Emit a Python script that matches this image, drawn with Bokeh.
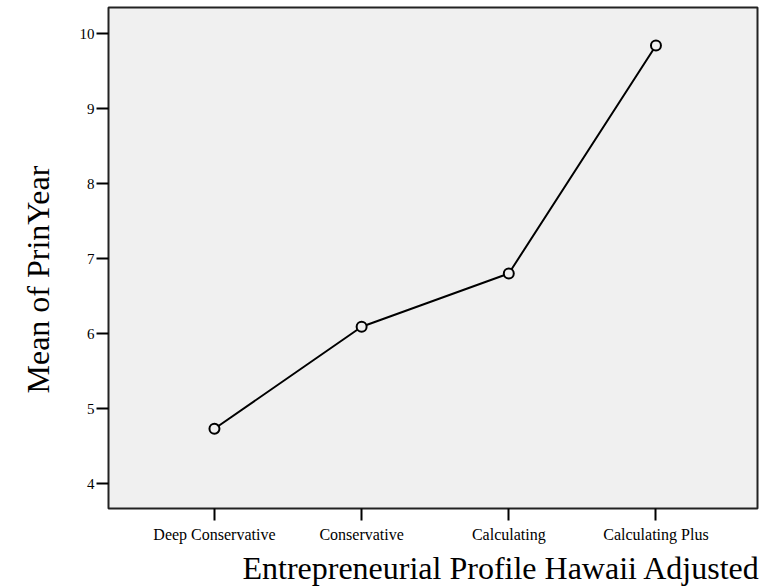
from bokeh.plotting import figure
from bokeh.models import Range1d, FixedTicker, Title
from bokeh.embed import file_html
from bokeh.resources import INLINE

categories = ["Deep Conservative", "Conservative", "Calculating", "Calculating Plus"]
means = [4.73, 6.09, 6.80, 9.84]
y_ticks = [4, 5, 6, 7, 8, 9, 10]

x_title = "Entrepreneurial Profile Hawaii Adjusted"
y_title = "Mean of PrinYear"

FONT = "Liberation Serif"
xs = list(range(len(categories)))

p = figure(
    output_backend="svg", toolbar_location=None, title=None,
    frame_width=649, frame_height=501,
    min_border_top=7, min_border_left=108, min_border_right=5, min_border_bottom=60,
    x_range=Range1d(-0.72, 3.69), y_range=Range1d(3.667, 10.347),
)
p.background_fill_color = "#f0f0f0"
p.border_fill_color = "white"
p.outline_line_color = "#222222"
p.outline_line_width = 2
p.grid.visible = False

p.line(xs, means, line_color="black", line_width=2)
p.scatter(xs, means, marker="circle", size=10, line_color="black", line_width=2,
          fill_color="#f0f0f0")

xa = p.xaxis[0]
xa.ticker = FixedTicker(ticks=xs)
xa.major_label_overrides = {i: c for i, c in enumerate(categories)}
ya = p.yaxis[0]
ya.ticker = FixedTicker(ticks=y_ticks)

for ax in (xa, ya):
    ax.axis_line_color = None
    ax.major_tick_line_color = "black"
    ax.major_tick_line_width = 2
    ax.major_tick_in = 0
    ax.major_tick_out = 12
    ax.minor_tick_line_color = None
    ax.major_label_text_font = FONT
    ax.major_label_text_color = "black"
xa.major_label_text_font_size = "16px"
ya.major_label_text_font_size = "15px"
xa.major_label_standoff = 5
ya.major_label_standoff = 2

tx = Title(text=x_title, align="right", offset=-3, text_font=FONT,
           text_font_size="32px", text_font_style="normal", text_color="black", standoff=5)
p.add_layout(tx, "below")
ty = Title(text=y_title, align="left", offset=115, text_font=FONT, vertical_align="top",
           text_font_size="32px", text_font_style="normal", text_color="black", standoff=37)
p.add_layout(ty, "left")

open("out.html", "w").write(file_html(p, INLINE))
